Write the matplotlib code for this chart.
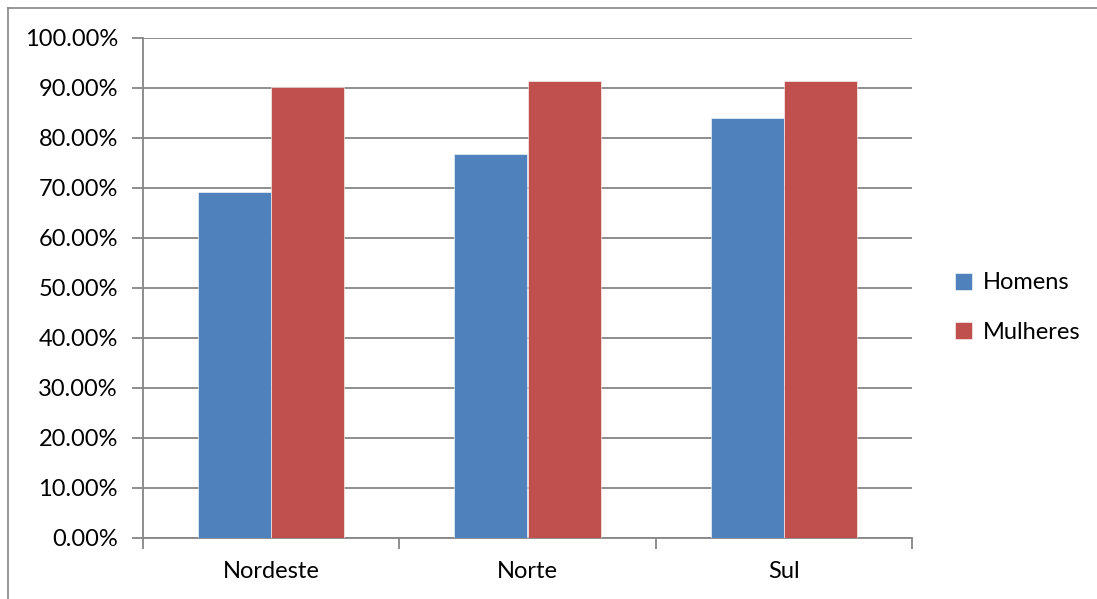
import numpy as np
import matplotlib.pyplot as plt
from matplotlib.lines import Line2D
from matplotlib.ticker import FuncFormatter, MultipleLocator

# regiões e percentuais por sexo
regioes = ["Nordeste", "Norte", "Sul"]
homens = [69.2, 76.8, 84.0]
mulheres = [90.2, 91.3, 91.3]
series = ["Homens", "Mulheres"]
cores = ["#4F81BD", "#C0504D"]

cinza = "#868686"
plt.rcParams['font.family'] = ['Lato', 'DejaVu Sans']

fig = plt.figure(figsize=(10.97, 5.99), dpi=100)
ax = fig.add_axes([143 / 1097, 1 - 537.5 / 599, (912 - 143) / 1097, (537.5 - 37.7) / 599])

# moldura externa do gráfico (só topo e esquerda ficam dentro da figura)
xf, yf = 8 / 1097, 1 - 8 / 599
fig.lines.append(Line2D([xf, 1.0], [yf, yf], transform=fig.transFigure, color=cinza, lw=1.2))
fig.lines.append(Line2D([xf, xf], [0.0, yf], transform=fig.transFigure, color=cinza, lw=1.2))

x = np.arange(len(regioes))
largura = 0.285
for i, (vals, nome) in enumerate(zip([homens, mulheres], series)):
    ax.bar(x + (i - 0.5) * largura, vals, largura, color=cores[i], label=nome,
           edgecolor="white", linewidth=0.4, zorder=3)

ax.set_xlim(-0.5, len(regioes) - 0.5)
ax.set_ylim(0, 100)
ax.yaxis.set_major_locator(MultipleLocator(10))
ax.yaxis.set_major_formatter(FuncFormatter(lambda v, p: f"{v:.2f}%"))
ax.grid(axis="y", color=cinza, lw=1.3, zorder=0)

ax.set_xticks(x)
ax.set_xticklabels(regioes)
ax.set_xticks(np.arange(-0.5, len(regioes)), minor=True)
ax.tick_params(axis="x", which="major", length=0, pad=17, labelsize=17)
ax.tick_params(axis="x", which="minor", length=8, width=1.3, color=cinza)
ax.tick_params(axis="y", length=8, width=1.3, color=cinza, labelsize=17, pad=10)

for lado in ["top", "right"]:
    ax.spines[lado].set_visible(False)
for lado in ["left", "bottom"]:
    ax.spines[lado].set_color(cinza)
    ax.spines[lado].set_linewidth(1.3)

ax.legend(loc="center left", bbox_to_anchor=(1.028, 0.46), frameon=False, fontsize=17,
          handlelength=0.75, handleheight=0.75, handletextpad=0.45, labelspacing=1.2)

fig.savefig("out.png", dpi=100)
